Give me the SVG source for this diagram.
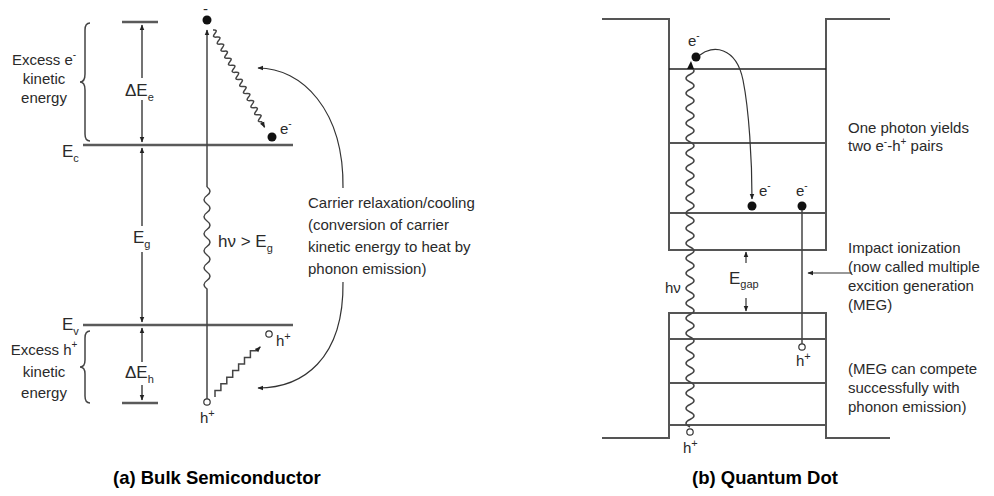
<svg xmlns="http://www.w3.org/2000/svg" width="994" height="496" viewBox="0 0 994 496">
<defs>
<style>
text{font-family:"Liberation Sans",Arial,sans-serif;fill:#2a2a2a;font-size:15px}
.cap{font-weight:bold;font-size:18.5px;fill:#000}
.band{stroke:#5a5a5a;stroke-width:2.6;fill:none}
.lvl{stroke:#555;stroke-width:2;fill:none}
.thin{stroke:#333;stroke-width:1.2;fill:none}
.line{stroke:#444;stroke-width:1.5;fill:none}
.big{font-size:17px}
.sub{font-size:11px}
</style>
<marker id="ah" viewBox="0 0 10 10" refX="9" refY="5" markerWidth="6" markerHeight="6" markerUnits="userSpaceOnUse" orient="auto-start-reverse">
<path d="M0,1 L10,5 L0,9 Z" fill="#222"/>
</marker>
</defs>
<rect width="994" height="496" fill="#fff"/>

<!-- ===== (a) Bulk Semiconductor ===== -->
<g id="bulk-levels">
<line class="band" x1="122" y1="22" x2="158" y2="22"/>
<line class="band" x1="83" y1="145" x2="293" y2="145"/>
<line class="band" x1="83" y1="325" x2="293" y2="325"/>
<line class="band" x1="122" y1="403" x2="158" y2="403"/>
</g>
<g id="bulk-labels">
<text x="62" y="157" class="big">E<tspan class="sub" dy="5">c</tspan></text>
<text x="62" y="330" class="big">E<tspan class="sub" dy="5">v</tspan></text>
<text x="133" y="243" class="big">E<tspan class="sub" dy="5">g</tspan></text>
<text x="125" y="96" class="big">ΔE<tspan class="sub" dy="5">e</tspan></text>
<text x="125" y="378" class="big">ΔE<tspan class="sub" dy="5">h</tspan></text>
</g>
<g id="excess-e" text-anchor="middle">
<text x="44" y="65">Excess e<tspan font-size="10" dy="-7">-</tspan></text>
<text x="44" y="84">kinetic</text>
<text x="44" y="103">energy</text>
<path class="line" d="M90,23 Q85,23 85,30 L85,74 Q85,82 80,82 Q85,82 85,90 L85,134 Q85,141 90,141"/>
</g>
<g id="excess-h" text-anchor="middle">
<text x="44" y="355">Excess h<tspan font-size="10" dy="-7">+</tspan></text>
<text x="44" y="377">kinetic</text>
<text x="44" y="398">energy</text>
<path class="line" d="M90,331 Q85,331 85,338 L85,360 Q85,367 80,367 Q85,367 85,374 L85,396 Q85,403 90,403"/>
</g>
<g id="photon-a">
<path class="line" d="M207,187 L207,30" marker-end="url(#ah)"/>
<path class="line" d="M207,187 q 6,4.25 0,8.5 q -6,4.25 0,8.5 q 6,4.25 0,8.5 q -6,4.25 0,8.5 q 6,4.25 0,8.5 q -6,4.25 0,8.5 q 6,4.25 0,8.5 q -6,4.25 0,8.5 q 6,4.25 0,8.5 q -6,4.25 0,8.5 q 6,4.25 0,8.5 q -6,4.25 0,8.5 L207,399"/>
<text x="218" y="247" class="big">hν &gt; E<tspan class="sub" dy="5">g</tspan></text>
</g>
<g id="electron-a">
<circle cx="207" cy="20" r="4.5" fill="#111"/>
<text x="203" y="14" font-size="11">-</text>
<path class="line" d="M213,30 q 5.36,-0.57 1.87,3.53 q -3.48,4.11 1.87,3.53 q 5.36,-0.57 1.87,3.53 q -3.48,4.11 1.87,3.53 q 5.36,-0.57 1.87,3.53 q -3.48,4.11 1.87,3.53 q 5.36,-0.57 1.87,3.53 q -3.48,4.11 1.87,3.53 q 5.36,-0.57 1.87,3.53 q -3.48,4.11 1.87,3.53 q 5.36,-0.57 1.87,3.53 q -3.48,4.11 1.87,3.53 q 5.36,-0.57 1.87,3.53 q -3.48,4.11 1.87,3.53 q 5.36,-0.57 1.87,3.53 q -3.48,4.11 1.87,3.53 q 5.36,-0.57 1.87,3.53 q -3.48,4.11 1.87,3.53 q 5.36,-0.57 1.87,3.53 q -3.48,4.11 1.87,3.53 q 5.36,-0.57 1.87,3.53 q -3.48,4.11 1.87,3.53 q 5.36,-0.57 1.87,3.53 q -3.48,4.11 1.87,3.53 q 5.36,-0.57 1.87,3.53 q -3.48,4.11 1.87,3.53 l 3,5.5" marker-end="url(#ah)"/>
<circle cx="272" cy="137" r="4.5" fill="#111"/>
<text x="280" y="134">e<tspan font-size="10" dy="-7">-</tspan></text>
</g>
<g id="hole-a">
<circle cx="207" cy="402" r="3.2" fill="#fff" stroke="#333" stroke-width="1.2"/>
<text x="200" y="423">h<tspan font-size="11" dy="-6">+</tspan></text>
<path class="line" d="M215,397 v -6.6 h 5.9 v -6.6 h 5.9 v -6.6 h 5.9 v -6.6 h 5.9 v -6.6 h 5.9 v -6.6 h 5.9 v -6.6 h 5.9 l 4,-4" marker-end="url(#ah)"/>
<circle cx="269" cy="334" r="3.2" fill="#fff" stroke="#333" stroke-width="1.2"/>
<text x="276" y="346">h<tspan font-size="11" dy="-6">+</tspan></text>
</g>
<g id="cooling-note">
<text x="308" y="208">Carrier relaxation/cooling</text>
<text x="308" y="230">(conversion of carrier</text>
<text x="308" y="252">kinetic energy to heat by</text>
<text x="308" y="274">phonon emission)</text>
</g>
<g id="connectors-a">
<path class="line" d="M142,78 L142,25" marker-end="url(#ah)"/>
<path class="line" d="M142,100 L142,142" marker-end="url(#ah)"/>
<path class="line" d="M142,226 L142,148" marker-end="url(#ah)"/>
<path class="line" d="M142,252 L142,322" marker-end="url(#ah)"/>
<path class="line" d="M142,362 L142,328" marker-end="url(#ah)"/>
<path class="line" d="M142,385 L142,400" marker-end="url(#ah)"/>
<path class="thin" d="M343,188 C344,110 302,68 258,68" marker-end="url(#ah)"/>
<path class="thin" d="M343,282 C344,360 302,388 258,388" marker-end="url(#ah)"/>
</g>
<text class="cap" x="113" y="484">(a) Bulk Semiconductor</text>

<!-- ===== (b) Quantum Dot ===== -->
<g id="qd-well">
<path class="lvl" d="M602,19 H669 V250 H826 V19 H890"/>
<line x1="669" y1="69" x2="826" y2="69" stroke="#222" stroke-width="1.6"/>
<line class="lvl" x1="669" y1="143" x2="826" y2="143"/>
<line class="lvl" x1="669" y1="213" x2="826" y2="213"/>
<path class="lvl" d="M602,438 H669 V313 H826 V438 H890"/>
<line class="lvl" x1="669" y1="339" x2="826" y2="339"/>
<line class="lvl" x1="669" y1="383" x2="826" y2="383"/>
<line class="lvl" x1="669" y1="425" x2="826" y2="425"/>
</g>
<g id="photon-b">
<path class="line" d="M690,67 q 8,3.75 0,7.5 q -8,3.75 0,7.5 q 8,3.75 0,7.5 q -8,3.75 0,7.5 q 8,3.75 0,7.5 q -8,3.75 0,7.5 q 8,3.75 0,7.5 q -8,3.75 0,7.5 q 8,3.75 0,7.5 q -8,3.75 0,7.5 q 8,3.75 0,7.5 q -8,3.75 0,7.5 q 8,3.75 0,7.5 q -8,3.75 0,7.5 q 8,3.75 0,7.5 q -8,3.75 0,7.5 q 8,3.75 0,7.5 q -8,3.75 0,7.5 q 8,3.75 0,7.5 q -8,3.75 0,7.5 q 8,3.75 0,7.5 q -8,3.75 0,7.5 q 8,3.75 0,7.5 q -8,3.75 0,7.5 q 8,3.75 0,7.5 q -8,3.75 0,7.5 q 8,3.75 0,7.5 q -8,3.75 0,7.5 q 8,3.75 0,7.5 q -8,3.75 0,7.5 q 8,3.75 0,7.5 q -8,3.75 0,7.5 q 8,3.75 0,7.5 q -8,3.75 0,7.5 q 8,3.75 0,7.5 q -8,3.75 0,7.5 q 8,3.75 0,7.5 q -8,3.75 0,7.5 q 8,3.75 0,7.5 q -8,3.75 0,7.5 q 8,3.75 0,7.5 q -8,3.75 0,7.5 q 8,3.75 0,7.5 q -8,3.75 0,7.5 q 8,3.75 0,7.5 q -8,3.75 0,7.5 q 8,3.75 0,7.5 q -8,3.75 0,7.5"/>
<path d="M687,69 L691,61 L694,69 Z" fill="#111"/>
<text x="665" y="293">hν</text>
<circle cx="690" cy="432" r="3.2" fill="#fff" stroke="#333" stroke-width="1.2"/>
<text x="683" y="453">h<tspan font-size="11" dy="-6">+</tspan></text>
</g>
<g id="electron-b1">
<circle cx="696" cy="57" r="4.5" fill="#111"/>
<text x="688" y="46">e<tspan font-size="10" dy="-7">-</tspan></text>
<circle cx="752" cy="206" r="4.5" fill="#111"/>
<text x="759" y="196">e<tspan font-size="10" dy="-7">-</tspan></text>
</g>
<g id="electron-b2">
<circle cx="802" cy="206" r="4.5" fill="#111"/>
<text x="796" y="196">e<tspan font-size="10" dy="-7">-</tspan></text>
<circle cx="802" cy="347" r="3.2" fill="#fff" stroke="#333" stroke-width="1.2"/>
<text x="796" y="366">h<tspan font-size="11" dy="-6">+</tspan></text>
</g>
<g id="egap">
<text x="729" y="284" class="big">E<tspan class="sub" dy="4">gap</tspan></text>
</g>
<g id="connectors-b">
<path class="thin" d="M700,55 C712,45 736,46 743,80 C749,110 752,160 752,199" marker-end="url(#ah)"/>
<line class="line" x1="802" y1="210" x2="802" y2="344"/>
<path class="thin" d="M746,263 L746,252" marker-end="url(#ah)"/>
<path class="thin" d="M746,298 L746,311" marker-end="url(#ah)"/>
<path class="thin" d="M852,273 L808,273" marker-end="url(#ah)"/>
</g>
<g id="qd-notes">
<text x="848" y="133">One photon yields</text>
<text x="848" y="151">two e<tspan font-size="10" dy="-6">-</tspan><tspan dy="6">-h</tspan><tspan font-size="10" dy="-6">+</tspan><tspan dy="6"> pairs</tspan></text>
<text x="848" y="253">Impact ionization</text>
<text x="848" y="272">(now called multiple</text>
<text x="848" y="291">excition generation</text>
<text x="848" y="310">(MEG)</text>
<text x="848" y="374">(MEG can compete</text>
<text x="848" y="393">successfully with</text>
<text x="848" y="412">phonon emission)</text>
</g>
<text class="cap" x="765" y="484" text-anchor="middle">(b) Quantum Dot</text>
</svg>
